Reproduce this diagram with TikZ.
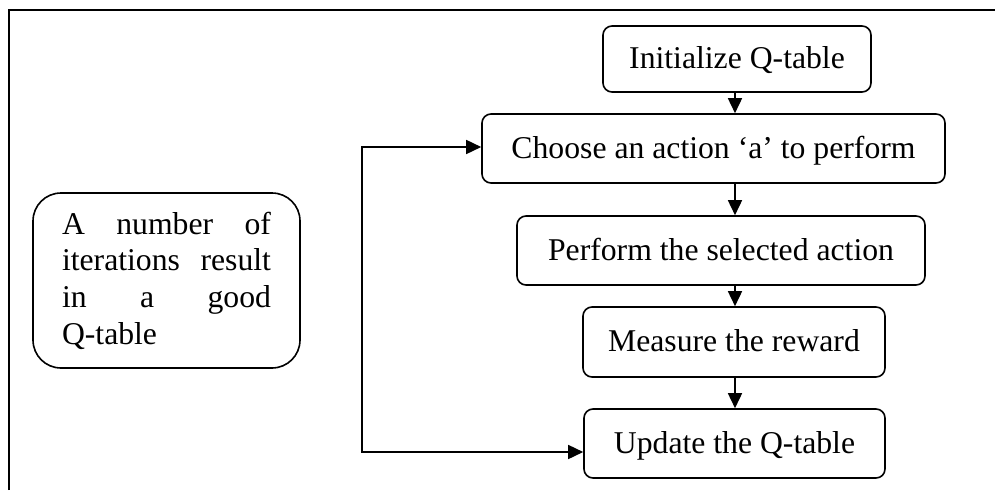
\documentclass[tikz,border=0pt]{standalone}
\usepackage{fontspec}
\setmainfont{Liberation Serif}
\usetikzlibrary{arrows.meta}
\begin{document}
\begin{tikzpicture}[x=1pt,y=-1pt,
  txt/.style={font=\fontsize{31.7}{36.7}\selectfont},
  box/.style={draw, line width=1.6pt, rounded corners=9pt, inner sep=0pt, txt,
    text height=26pt, text depth=7pt},
  arr/.style={line width=1.6pt, -{Triangle[length=15pt,width=14pt]}},
  darr/.style={line width=1.6pt, {Triangle[length=15pt,width=14pt]}-{Triangle[length=15pt,width=14pt]}}]
\useasboundingbox (0,0) rectangle (995,490);
% frame
\draw[line width=1.6pt] (9,490) -- (9,10) -- (995,10);
% boxes
\node[box, minimum width=268pt, minimum height=66pt] (init) at (737,59) {Initialize Q-table};
\node[box, minimum width=463pt, minimum height=69pt] (choose) at (713.5,148.5) {Choose an action ‘a’ to perform};
\node[box, minimum width=408pt, minimum height=69pt] (perform) at (721,250.5) {Perform the selected action};
\node[box, minimum width=302pt, minimum height=70pt] (measure) at (734,342) {Measure the reward};
\node[box, minimum width=301pt, minimum height=69pt] (update) at (734.5,443.5) {Update the Q-table};
\node[draw, line width=1.6pt, rounded corners=28pt, inner sep=0pt, txt,
  minimum width=267pt, minimum height=175pt, text width=209pt, align=justify] (note) at (166.5,280.5)
  {A number of\linebreak iterations result\linebreak in a good\linebreak Q-table};
% vertical connectors
\coordinate (m) at (735,0);
\draw[arr] (init.south -| m) -- (choose.north -| m);
\draw[arr] (choose.south -| m) -- (perform.north -| m);
\draw[arr] (perform.south -| m) -- (measure.north -| m);
\draw[arr] (measure.south -| m) -- (update.north -| m);
% feedback loop
\coordinate (fbb) at (362,452);
\coordinate (fbt) at (362,147);
\draw[darr] (update.west |- fbb) -- (fbb) -- (fbt) -- (choose.west |- fbt);
\end{tikzpicture}
\end{document}
